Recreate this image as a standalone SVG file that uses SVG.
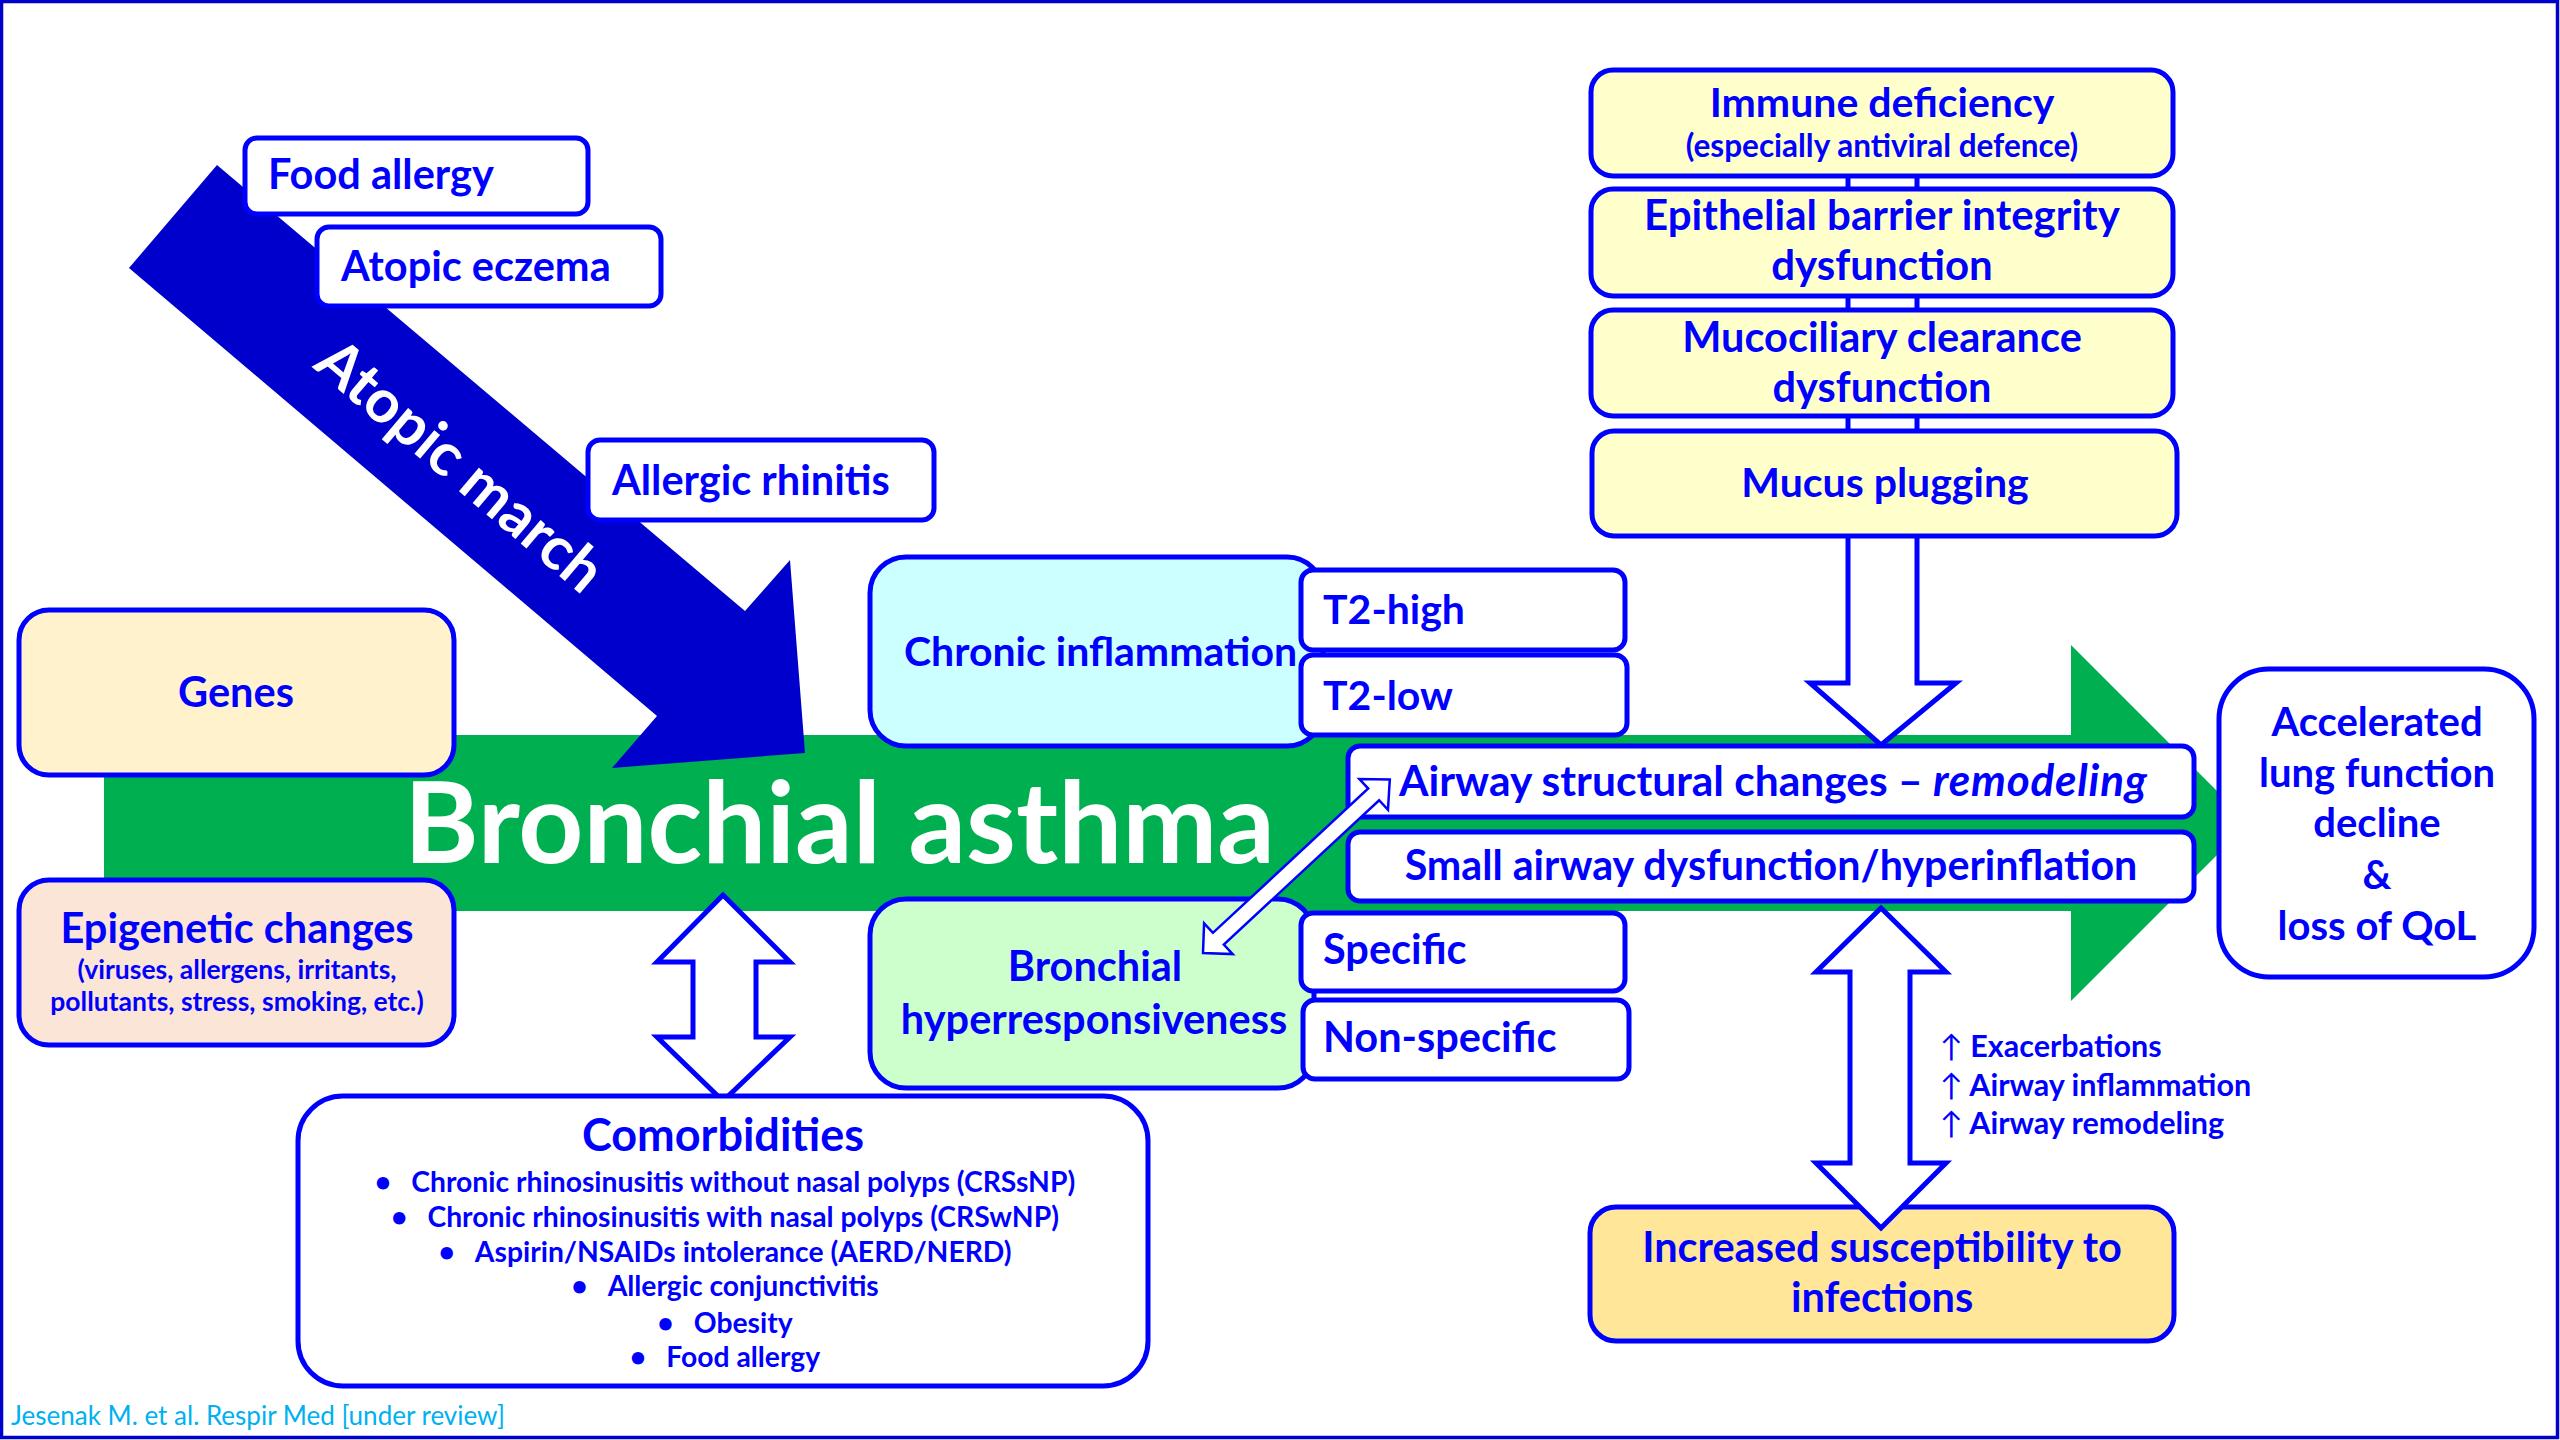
<svg xmlns="http://www.w3.org/2000/svg" width="2560" height="1440" viewBox="0 0 2560 1440">
<style>
.box{stroke:#0000FF;stroke-width:5}
.w{fill:#FFFFFF}
.t{font-family:Lato,"Open Sans","Liberation Sans",sans-serif;font-weight:700;fill:#0000FF}
.m{text-anchor:middle}
.hol{fill:#FFFFFF;stroke:#0000FF;stroke-width:5;stroke-linejoin:miter}
</style>
<rect x="0" y="0" width="2560" height="1440" fill="#FFFFFF"/>
<rect x="1.5" y="1.5" width="2556" height="1436" fill="none" stroke="#0000CC" stroke-width="3.5"/>

<g id="main-arrow">
<polygon points="104,735 2071,735 2071,645 2249,823 2071,1001 2071,911 104,911" fill="#00B050"/>
<text class="t" x="404" y="863" font-size="113.5" style="fill:#FFFFFF">Bronchial asthma</text>
</g>

<g id="atopic-march">
<polygon points="217,165 745,611 790,560 805,753 612,768 657,716 129,268" fill="#0000CC"/>
<text class="t m" transform="translate(460,466) rotate(40.2)" x="0" y="20" font-size="60" style="fill:#FFFFFF">Atopic march</text>
</g>

<g id="connectors">
<polygon id="mucus-arrow" class="hol" points="1848,150 1848,683 1810,683 1881,745 1956,683 1917,683 1917,150"/>
<polygon id="comorb-arrow" class="hol" points="723,895 790,962 756,962 756,1037 790,1037 723,1101 657,1037 693,1037 693,962 657,962"/>
</g>

<g id="food-allergy"><rect class="box w" x="245" y="138" width="343" height="76" rx="12"/><text class="t" x="268" y="189" font-size="41.5">Food allergy</text></g>
<g id="atopic-eczema"><rect class="box w" x="317" y="227" width="344" height="79" rx="12"/><text class="t" x="341" y="281" font-size="41.5">Atopic eczema</text></g>
<g id="allergic-rhinitis"><rect class="box w" x="588" y="440" width="346" height="80" rx="12"/><text class="t" x="612" y="495" font-size="41.5">Allergic rhinitis</text></g>

<g id="genes"><rect class="box" x="19" y="610" width="435" height="165" rx="30" fill="#FFF2CC"/><text class="t m" x="236" y="707" font-size="41.5">Genes</text></g>
<g id="epigenetic"><rect class="box" x="19" y="880" width="435" height="165" rx="30" fill="#FBE5D6"/>
<text class="t m" x="237" y="943" font-size="41.5">Epigenetic changes</text>
<text class="t m" x="237" y="979" font-size="26.5">(viruses, allergens, irritants,</text>
<text class="t m" x="237" y="1011" font-size="26.5">pollutants, stress, smoking, etc.)</text></g>

<g id="chronic-inflammation"><rect class="box" x="870" y="557" width="453" height="189" rx="36" fill="#CCFFFF"/><text class="t" x="904" y="666" font-size="41">Chronic inflammation</text></g>
<g id="t2-high"><rect class="box w" x="1301" y="570" width="324" height="80" rx="12"/><text class="t" x="1323" y="624" font-size="41">T2-high</text></g>
<g id="t2-low"><rect class="box w" x="1301" y="655" width="326" height="80" rx="12"/><text class="t" x="1323" y="710" font-size="41">T2-low</text></g>

<g id="bhr"><rect class="box" x="870" y="899" width="444" height="189" rx="36" fill="#CCFFCC"/>
<text class="t m" x="1095" y="981" font-size="41.5">Bronchial</text>
<text class="t m" x="1094" y="1034" font-size="41.5">hyperresponsiveness</text></g>
<g id="specific"><rect class="box w" x="1301" y="913" width="324" height="78" rx="12"/><text class="t" x="1323" y="964" font-size="41.5">Specific</text></g>
<g id="non-specific"><rect class="box w" x="1303" y="1000" width="326" height="79" rx="12"/><text class="t" x="1323" y="1052" font-size="41.5">Non-specific</text></g>

<g id="remodeling"><rect class="box w" x="1348" y="746" width="846" height="71" rx="12"/><text class="t" x="1399" y="796" font-size="42.5">Airway structural changes – <tspan font-style="italic" font-size="44" letter-spacing="0.8">remodeling</tspan></text></g>
<g id="small-airway"><rect class="box w" x="1348" y="832" width="846" height="69" rx="12"/><text class="t m" x="1771" y="880" font-size="41.2">Small airway dysfunction/hyperinflation</text></g>

<g id="immune"><rect class="box" x="1591" y="70" width="582" height="106" rx="22" fill="#FFFFCC"/>
<text class="t m" x="1882" y="117" font-size="41">Immune deficiency</text>
<text class="t m" x="1882" y="157" font-size="31.5">(especially antiviral defence)</text></g>
<g id="epithelial"><rect class="box" x="1591" y="189" width="582" height="107" rx="22" fill="#FFFFCC"/>
<text class="t m" x="1882" y="230" font-size="42">Epithelial barrier integrity</text>
<text class="t m" x="1882" y="280" font-size="42">dysfunction</text></g>
<g id="mucociliary"><rect class="box" x="1591" y="310" width="582" height="106" rx="22" fill="#FFFFCC"/>
<text class="t m" x="1882" y="352" font-size="41.5">Mucociliary clearance</text>
<text class="t m" x="1882" y="402" font-size="41.5">dysfunction</text></g>
<g id="mucus"><rect class="box" x="1592" y="431" width="585" height="105" rx="22" fill="#FFFFCC"/>
<text class="t m" x="1885" y="497" font-size="41">Mucus plugging</text></g>

<g id="accelerated"><rect class="box w" x="2219" y="669" width="315" height="308" rx="50"/>
<text class="t m" x="2377" y="736" font-size="40">Accelerated</text>
<text class="t m" x="2377" y="787" font-size="40">lung function</text>
<text class="t m" x="2377" y="837" font-size="40">decline</text>
<text class="t m" x="2377" y="889" font-size="40">&amp;</text>
<text class="t m" x="2377" y="940" font-size="40">loss of QoL</text></g>

<g id="infections"><rect class="box" x="1590" y="1207" width="584" height="134" rx="26" fill="#FFE699"/>
<text class="t m" x="1882" y="1262" font-size="41.5">Increased susceptibility to</text>
<text class="t m" x="1882" y="1312" font-size="41.5">infections</text></g>

<g id="effects">
<text class="t" x="1940" y="1057" font-size="30.5"><tspan font-weight="400">↑</tspan> Exacerbations</text>
<text class="t" x="1940" y="1096" font-size="30.5"><tspan font-weight="400">↑</tspan> Airway inflammation</text>
<text class="t" x="1940" y="1134" font-size="30.5"><tspan font-weight="400">↑</tspan> Airway remodeling</text>
</g>

<g id="comorbidities"><rect class="box w" x="298" y="1096" width="850" height="290" rx="45"/>
<text class="t m" x="723" y="1151" font-size="45">Comorbidities</text>
<text class="t m" x="725" y="1192" font-size="28.3">•<tspan dx="20">Chronic rhinosinusitis without nasal polyps (CRSsNP)</tspan></text>
<text class="t m" x="725" y="1227" font-size="28.3">•<tspan dx="20">Chronic rhinosinusitis with nasal polyps (CRSwNP)</tspan></text>
<text class="t m" x="725" y="1262" font-size="28.3">•<tspan dx="20">Aspirin/NSAIDs intolerance (AERD/NERD)</tspan></text>
<text class="t m" x="725" y="1296" font-size="28.3">•<tspan dx="20">Allergic conjunctivitis</tspan></text>
<text class="t m" x="725" y="1333" font-size="28.3">•<tspan dx="20">Obesity</tspan></text>
<text class="t m" x="725" y="1367" font-size="28.3">•<tspan dx="20">Food allergy</tspan></text></g>

<g id="connectors-top">
<polygon id="infection-arrow" class="hol" points="1881,908 1946,972 1910,972 1910,1163 1946,1163 1881,1228 1816,1163 1850,1163 1850,972 1816,972"/>
<polygon id="bhr-remodeling-arrow" transform="translate(1203,953) rotate(-42.9)" points="0,0 21,-21 21,-8 233,-8 233,-21 255,0 233,21 233,8 21,8 21,21" fill="#FFFFFF" stroke="#0000FF" stroke-width="2.5"/>
</g>

<text x="11" y="1425" font-family="Lato,'Open Sans',sans-serif" font-size="26" fill="#00B0F0">Jesenak M. et al. Respir Med [under review]</text>
</svg>
